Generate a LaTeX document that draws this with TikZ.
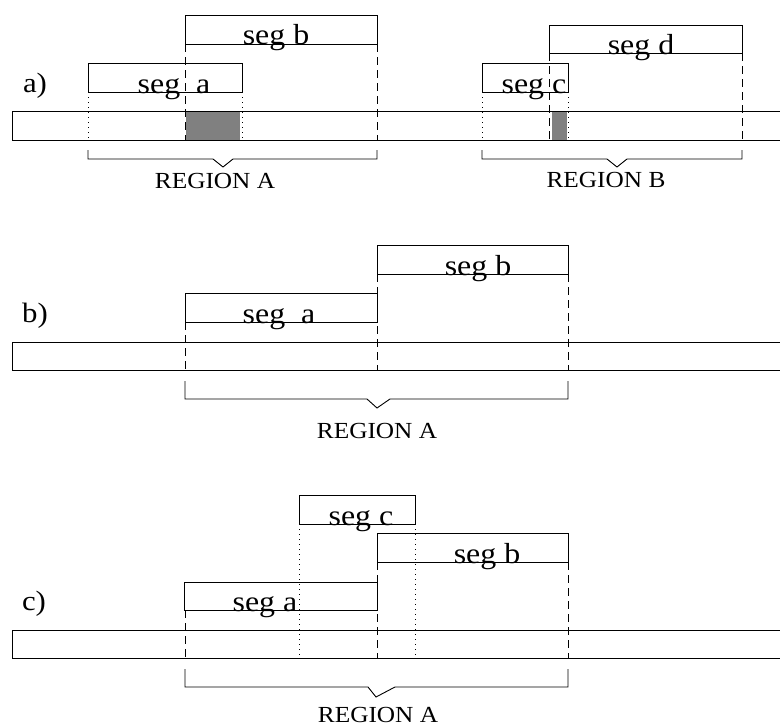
\documentclass[tikz,border=0pt]{standalone}
\usepackage{fontspec}
\setmainfont{Liberation Serif}
\usepackage{graphicx}
% labels in this figure are set slightly wider than the font's natural width
\newcommand\hstretch[1]{\scalebox{1.1}[1]{#1}}
\definecolor{overlapgray}{gray}{0.5}
\begin{document}
\begin{tikzpicture}[x=1pt,y=-1pt,line width=0.9pt,
  overlap/.style={fill=overlapgray,draw=none},
  longdash/.style={dash pattern=on 8pt off 5pt},
  finedots/.style={dash pattern=on 1pt off 4pt},
  seglabel/.style={inner sep=0pt,anchor=base,font=\fontsize{29}{30}\selectfont},
  regionlabel/.style={inner sep=0pt,anchor=base,font=\fontsize{23}{24}\selectfont},
  panellabel/.style={inner sep=0pt,anchor=base,font=\fontsize{28}{29}\selectfont}]
\useasboundingbox (0,0) rectangle (780,728);

% ---------------- panel a ----------------
\path[overlap] (186,112) rectangle (240,140);
\path[overlap] (552,112) rectangle (567,140);
\draw (12,111) rectangle (790,140);
\draw (185,15) rectangle (377,44);
\draw (88,63) rectangle (242,92);
\draw (482,63) rectangle (568,92);
\draw (549,25) rectangle (742,53);
\draw[longdash] (185,44) -- (185,140);
\draw[longdash] (377,44) -- (377,140);
\draw[longdash] (549,53) -- (549,140);
\draw[longdash] (742,53) -- (742,140);
\draw[finedots] (88,92) -- (88,140);
\draw[finedots] (242,92) -- (242,140);
\draw[finedots] (482,92) -- (482,140);
\draw[finedots] (568,92) -- (568,140);
\draw (88,150) -- (88,159) -- (213,159) -- (223,167) -- (233,159) -- (377,159) -- (377,150);
\draw (482,150) -- (482,159) -- (607,159) -- (617,167) -- (627,159) -- (742,159) -- (742,150);
\node[panellabel] (la) at (35,92) {\hstretch{a)}};
\node[seglabel] (asb) at (276,45) {\hstretch{seg b}};
\node[seglabel] (asa) at (174,93) {\hstretch{seg\ \ a}};
\node[seglabel] (asc) at (534,93) {\hstretch{seg c}};
\node[seglabel] (asd) at (641,54) {\hstretch{seg d}};
\node[regionlabel] (ara) at (215,188) {\hstretch{REGION A}};
\node[regionlabel] (arb) at (606,187) {\hstretch{REGION B}};

% ---------------- panel b ----------------
\draw (12,342) rectangle (790,370);
\draw (377,245) rectangle (568,274);
\draw (185,293) rectangle (377,322);
\draw[longdash] (185,322) -- (185,370);
\draw[longdash] (377,274) -- (377,370);
\draw[longdash] (568,274) -- (568,370);
\draw (185,381) -- (185,399) -- (367,399) -- (377,408) -- (390,399) -- (568,399) -- (568,381);
\node[panellabel] (lb) at (35,322) {\hstretch{b)}};
\node[seglabel] (bsb) at (478,275) {\hstretch{seg b}};
\node[seglabel] (bsa) at (279,323) {\hstretch{seg\ \ a}};
\node[regionlabel] (bra) at (377,438) {\hstretch{REGION A}};

% ---------------- panel c ----------------
\draw (12,630) rectangle (790,658);
\draw (299,495) rectangle (415,524);
\draw (377,533) rectangle (568,562);
\draw (184,582) rectangle (377,610);
\draw[longdash] (185,610) -- (185,658);
\draw[longdash] (377,562) -- (377,658);
\draw[longdash] (568,562) -- (568,658);
\draw[finedots] (299,524) -- (299,658);
\draw[finedots] (415,524) -- (415,658);
\draw (185,669) -- (185,687) -- (368,687) -- (376,697) -- (395,687) -- (568,687) -- (568,669);
\node[panellabel] (lc) at (34,610) {\hstretch{c)}};
\node[seglabel] (csc) at (361,525) {\hstretch{seg c}};
\node[seglabel] (csb) at (487,563) {\hstretch{seg b}};
\node[seglabel] (csa) at (265,611) {\hstretch{seg a}};
\node[regionlabel] (cra) at (378,722) {\hstretch{REGION A}};
\end{tikzpicture}
\end{document}
